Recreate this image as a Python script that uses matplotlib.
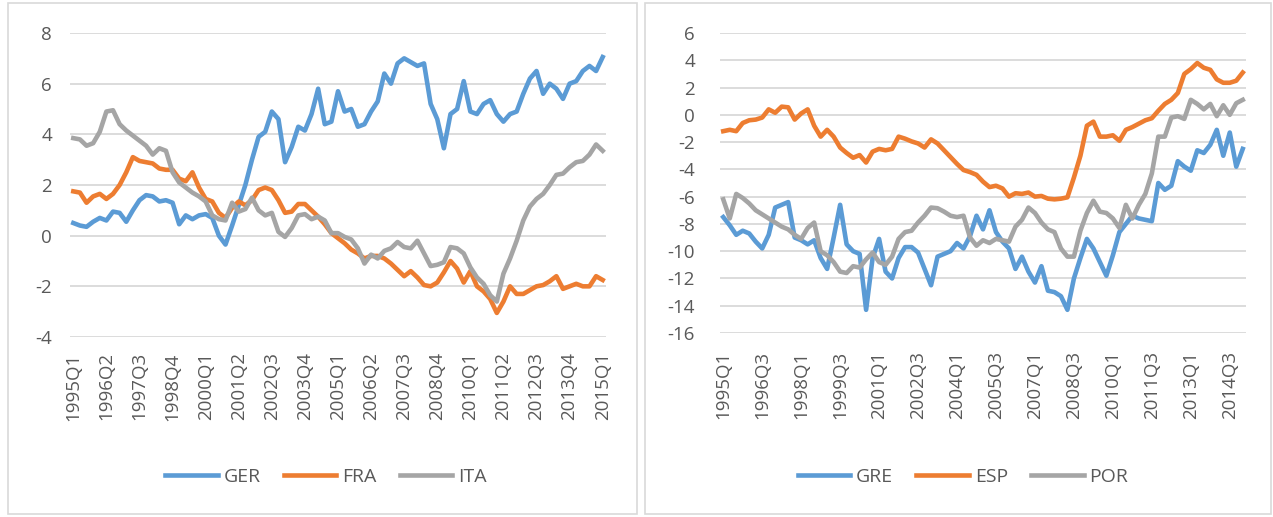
import matplotlib
matplotlib.use('Agg')
import matplotlib.pyplot as plt
from matplotlib.patches import Rectangle

# quarters 1995Q1 .. 2015Q1
quarters = ['%dQ%d' % (1995 + k // 4, k % 4 + 1) for k in range(81)]

ger = [0.5, 0.4, 0.35, 0.55, 0.7, 0.6, 0.95, 0.9, 0.55, 1.0,
       1.4, 1.6, 1.55, 1.35, 1.4, 1.3, 0.45, 0.8, 0.65, 0.8,
       0.85, 0.7, 0.0, -0.35, 0.4, 1.2, 2.0, 3.0, 3.9, 4.1,
       4.9, 4.6, 2.9, 3.5, 4.3, 4.15, 4.8, 5.8, 4.4, 4.5,
       5.7, 4.9, 5.0, 4.3, 4.4, 4.9, 5.3, 6.4, 6.0, 6.8,
       7.0, 6.85, 6.7, 6.8, 5.2, 4.6, 3.45, 4.8, 5.0, 6.1,
       4.9, 4.8, 5.2, 5.35, 4.8, 4.5, 4.8, 4.9, 5.6, 6.2,
       6.5, 5.6, 6.0, 5.8, 5.4, 6.0, 6.1, 6.5, 6.7, 6.5, 7.05]
fra = [1.75, 1.7, 1.3, 1.55, 1.65, 1.45, 1.65, 2.0, 2.5, 3.1,
       2.95, 2.9, 2.85, 2.65, 2.6, 2.6, 2.25, 2.15, 2.5, 1.9,
       1.45, 1.35, 0.9, 0.7, 1.1, 1.35, 1.2, 1.4, 1.8, 1.9,
       1.8, 1.4, 0.9, 0.95, 1.25, 1.25, 1.0, 0.75, 0.45, 0.1,
       -0.1, -0.3, -0.55, -0.7, -0.9, -0.8, -0.8, -0.9, -1.1, -1.35,
       -1.6, -1.4, -1.65, -1.95, -2.0, -1.85, -1.45, -1.0, -1.3, -1.85,
       -1.4, -2.0, -2.2, -2.5, -3.05, -2.6, -2.0, -2.3, -2.3, -2.15,
       -2.0, -1.95, -1.8, -1.6, -2.1, -2.0, -1.9, -2.0, -2.0, -1.6, -1.75]
ita = [3.85, 3.8, 3.55, 3.65, 4.1, 4.9, 4.95, 4.4, 4.15, 3.95,
       3.75, 3.55, 3.2, 3.45, 3.35, 2.5, 2.1, 1.9, 1.7, 1.55,
       1.35, 0.8, 0.65, 0.6, 1.3, 0.95, 1.05, 1.5, 1.0, 0.8,
       0.9, 0.15, -0.05, 0.3, 0.8, 0.85, 0.65, 0.75, 0.6, 0.1,
       0.1, -0.05, -0.15, -0.5, -1.1, -0.75, -0.9, -0.6, -0.5, -0.25,
       -0.45, -0.5, -0.2, -0.7, -1.2, -1.15, -1.05, -0.45, -0.5, -0.7,
       -1.25, -1.65, -1.9, -2.35, -2.6, -1.5, -0.9, -0.2, 0.6, 1.15,
       1.45, 1.65, 2.0, 2.4, 2.45, 2.7, 2.9, 2.95, 3.2, 3.6, 3.35]

gre = [-7.5, -8.1, -8.8, -8.5, -8.7, -9.3, -9.8, -8.8, -6.8, -6.6,
       -6.4, -9.0, -9.2, -9.5, -9.2, -10.5, -11.3, -9.0, -6.6, -9.5,
       -10.0, -10.2, -14.3, -10.5, -9.1, -11.5, -12.0, -10.5, -9.7, -9.7,
       -10.1, -11.3, -12.5, -10.4, -10.2, -10.0, -9.4, -9.8, -8.9, -7.4,
       -8.4, -7.0, -8.6, -9.3, -9.8, -11.3, -10.4, -11.5, -12.3, -11.1,
       -12.9, -13.0, -13.3, -14.3, -12.0, -10.5, -9.1, -9.8, -10.8, -11.8,
       -10.3, -8.6, -8.0, -7.4, -7.6, -7.7, -7.8, -5.0, -5.5, -5.2,
       -3.4, -3.8, -4.1, -2.6, -2.8, -2.2, -1.1, -3.0, -1.3, -3.8, -2.5]
esp = [-1.2, -1.1, -1.2, -0.6, -0.4, -0.35, -0.2, 0.4, 0.15, 0.6,
       0.55, -0.35, 0.1, 0.4, -0.8, -1.6, -1.1, -1.6, -2.4, -2.8,
       -3.15, -2.95, -3.5, -2.7, -2.5, -2.6, -2.5, -1.6, -1.75, -1.95,
       -2.1, -2.4, -1.8, -2.1, -2.6, -3.1, -3.6, -4.05, -4.2, -4.4,
       -4.9, -5.3, -5.2, -5.4, -6.0, -5.75, -5.8, -5.7, -6.0, -5.95,
       -6.15, -6.2, -6.15, -6.05, -4.6, -3.0, -0.8, -0.5, -1.6, -1.6,
       -1.5, -1.9, -1.1, -0.9, -0.65, -0.4, -0.25, 0.3, 0.8, 1.1,
       1.6, 3.0, 3.35, 3.8, 3.45, 3.3, 2.6, 2.35, 2.35, 2.5, 3.1]
por = [-6.2, -7.6, -5.8, -6.1, -6.5, -7.0, -7.3, -7.6, -7.9, -8.2,
       -8.4, -8.8, -9.1, -8.3, -7.9, -10.0, -10.3, -10.8, -11.5, -11.6,
       -11.1, -11.2, -10.6, -10.1, -10.8, -11.0, -10.4, -9.1, -8.6, -8.5,
       -7.9, -7.4, -6.8, -6.85, -7.1, -7.4, -7.5, -7.4, -9.0, -9.6,
       -9.2, -9.4, -9.1, -9.2, -9.3, -8.2, -7.7, -6.8, -7.2, -7.9,
       -8.4, -8.6, -9.8, -10.4, -10.4, -8.5, -7.2, -6.3, -7.1, -7.2,
       -7.6, -8.3, -6.6, -7.6, -6.6, -5.8, -4.3, -1.6, -1.6, -0.2,
       -0.1, -0.3, 1.1, 0.8, 0.4, 0.8, -0.1, 0.7, 0.0, 0.85, 1.1]

left_names = ['GER', 'FRA', 'ITA']
right_names = ['GRE', 'ESP', 'POR']
colors = ['#5B9BD5', '#ED7D31', '#A5A5A5']
txt = '#595959'
grid = '#D9D9D9'

W, H = 1273, 517
fig = plt.figure(figsize=(W / 100, H / 100), dpi=100)
plt.rcParams['font.family'] = ['Open Sans', 'DejaVu Sans']

# chart area borders
fig.patches.append(Rectangle((8 / W, 1 - 514 / H), 629 / W, 511 / H, transform=fig.transFigure,
                             fill=False, edgecolor=grid, lw=1.2))
fig.patches.append(Rectangle((645 / W, 1 - 514 / H), 626 / W, 511 / H, transform=fig.transFigure,
                             fill=False, edgecolor=grid, lw=1.2))


def panel(rect, series, names, ylim, yticks, step, ypad, xpad, leg_x):
    ax = fig.add_axes([rect[0] / W, 1 - rect[3] / H, (rect[2] - rect[0]) / W, (rect[3] - rect[1]) / H])
    x = range(len(quarters))
    for s, n, c in zip(series, names, colors):
        ax.plot(x, s, color=c, lw=3.3, label=n, solid_joinstyle='round')
    ax.set_xlim(-0.5, len(quarters) - 0.5)
    ax.set_ylim(*ylim)
    ax.set_yticks(yticks)
    ax.set_yticklabels([str(v) for v in yticks])
    ax.set_xticks(list(range(0, len(quarters), step)))
    ax.set_xticklabels(quarters[::step], rotation=90)
    ax.grid(axis='y', color=grid, lw=1.3)
    ax.set_axisbelow(True)
    for sp in ax.spines.values():
        sp.set_visible(False)
    ax.tick_params(axis='both', length=0, colors=txt, labelsize=13.5)
    ax.tick_params(axis='y', pad=ypad)
    ax.tick_params(axis='x', pad=xpad)
    ax.legend(loc='center', bbox_to_anchor=(leg_x / W, 1 - 477 / H), bbox_transform=fig.transFigure,
              ncol=3, frameon=False, handlelength=2.7, columnspacing=1.2, handletextpad=0.3,
              fontsize=14, labelcolor=txt)
    return ax


panel((70, 33, 606, 337), [ger, fra, ita], left_names, (-4, 8), list(range(-4, 9, 2)), 5, 13, 11, 326)
panel((720, 33, 1246, 333), [gre, esp, por], right_names, (-16, 6), list(range(-16, 7, 2)), 6, 18, 13, 963)

fig.savefig('out.png', dpi=100)
